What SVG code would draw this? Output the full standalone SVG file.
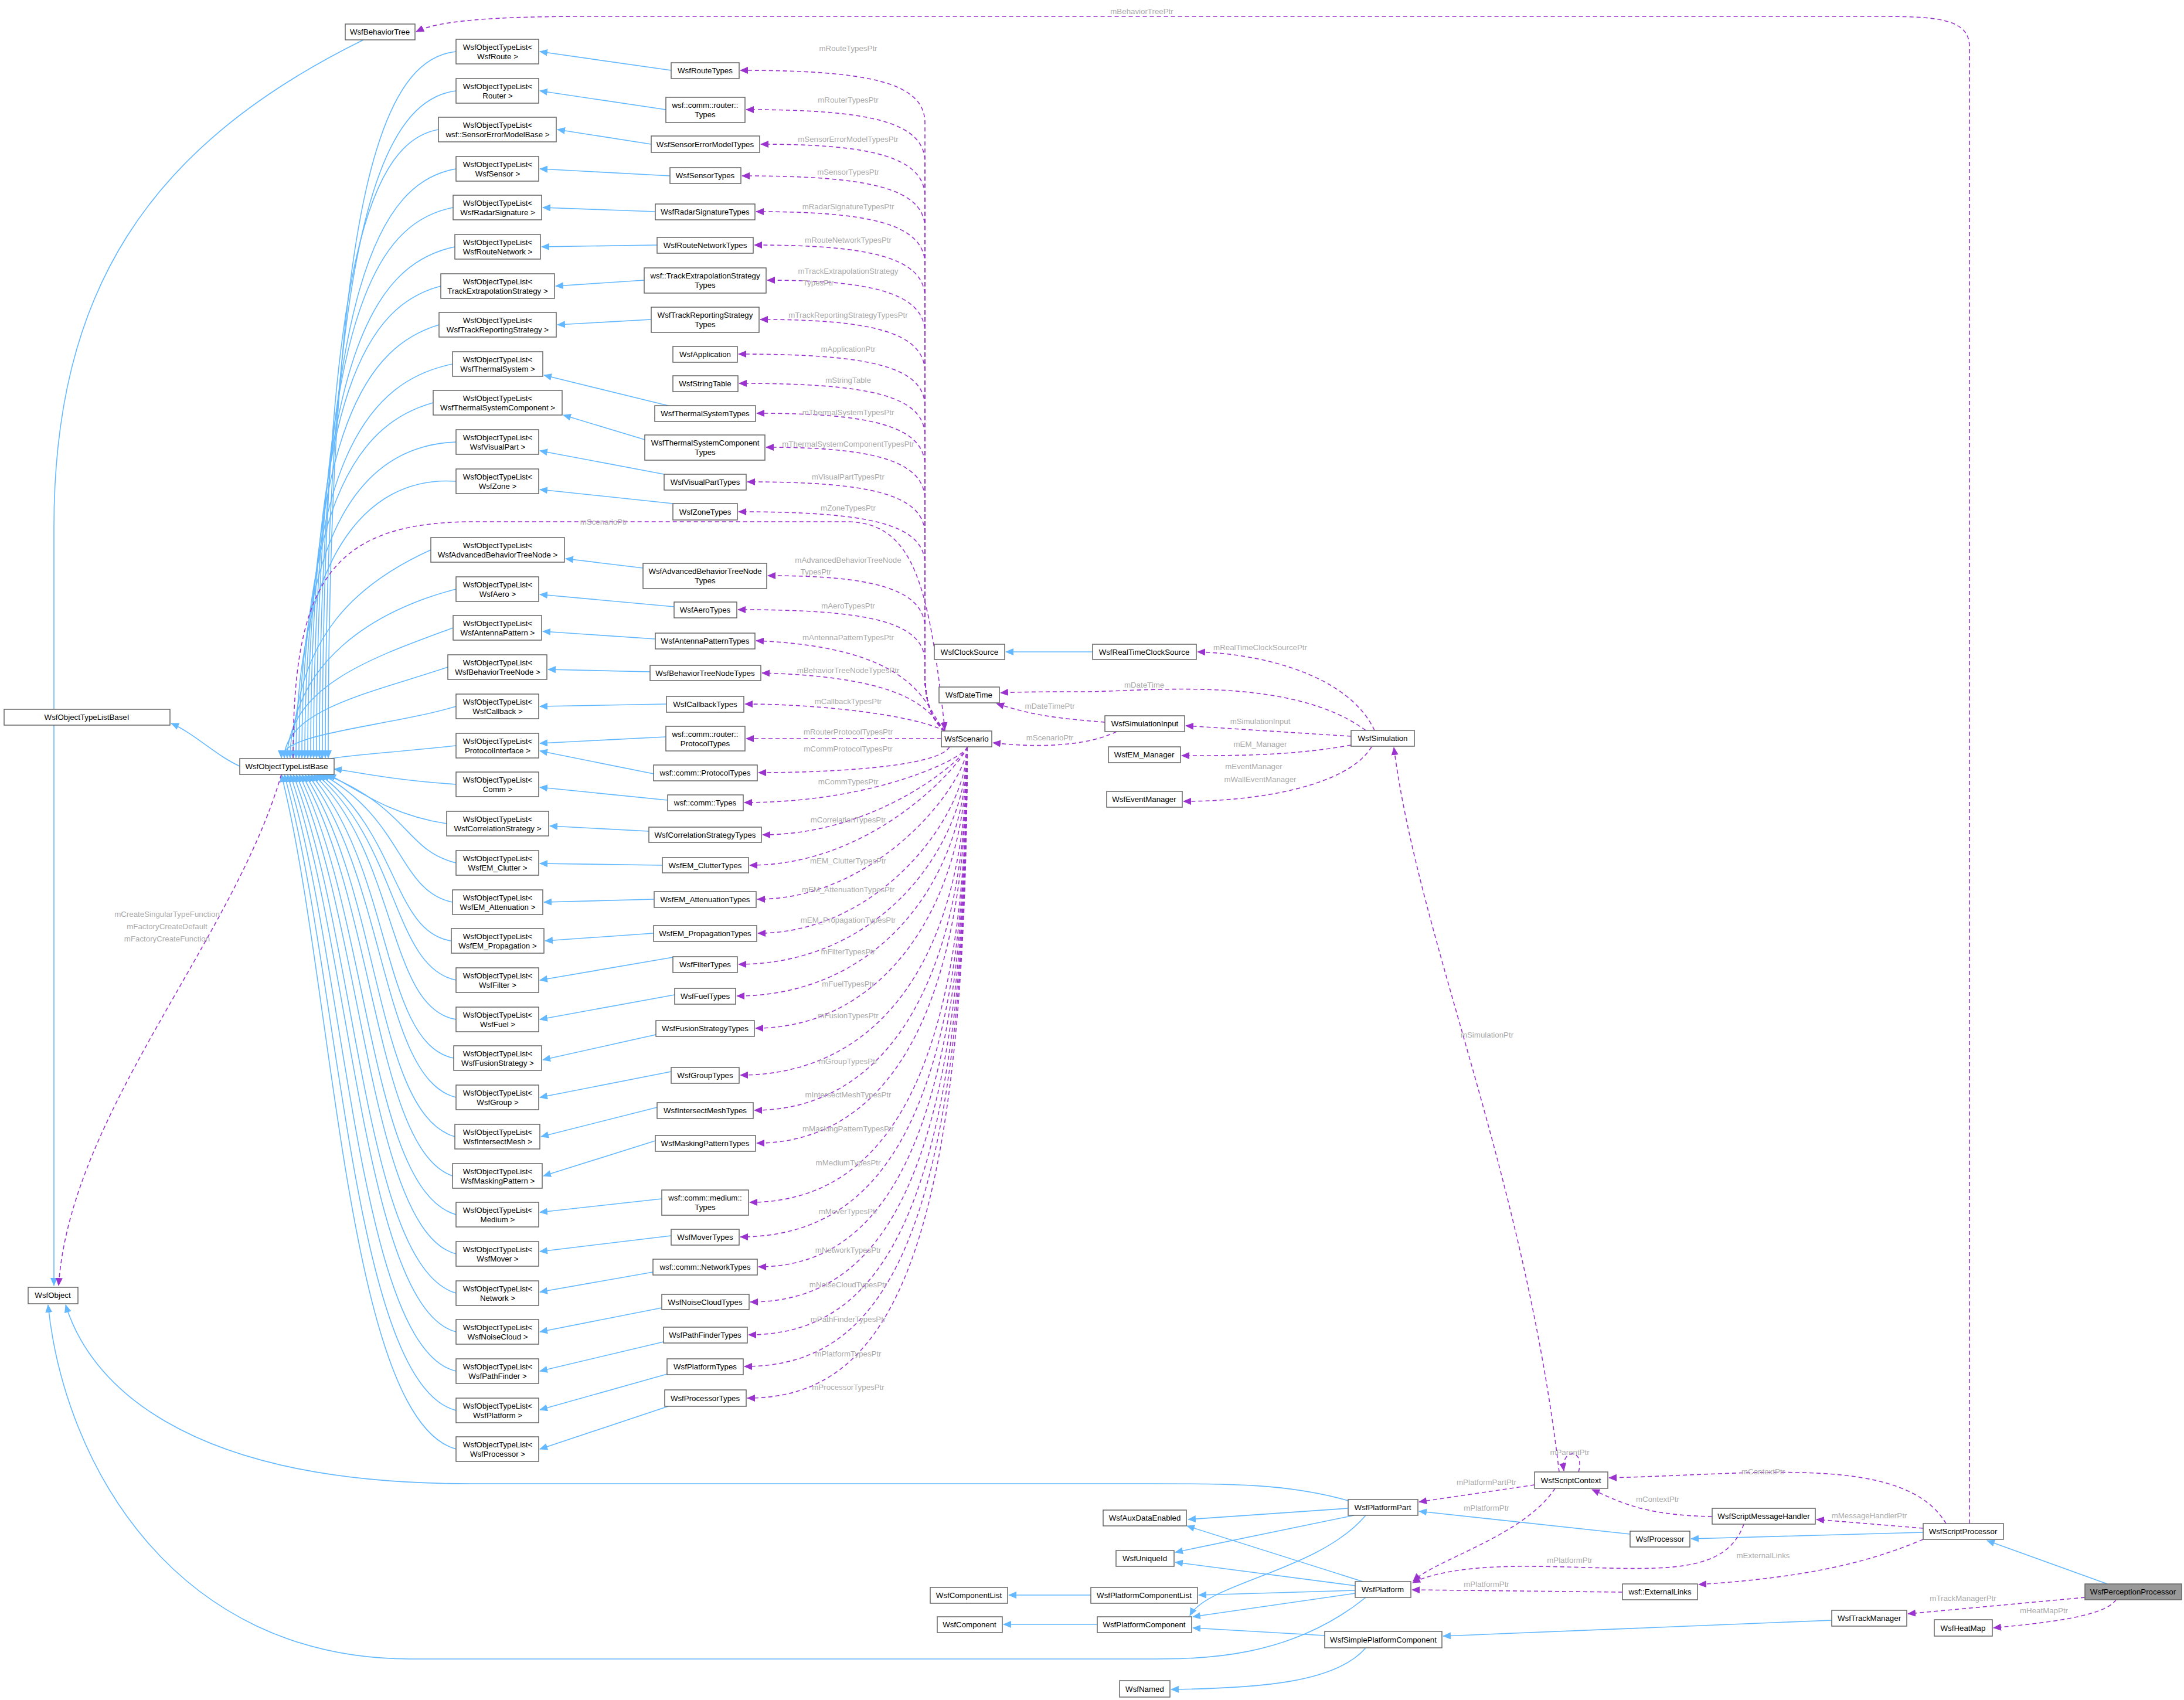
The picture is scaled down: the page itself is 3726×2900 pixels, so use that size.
<svg xmlns="http://www.w3.org/2000/svg" width="3726" height="2900" viewBox="0 0 3726 2900">
<defs>
<marker id="ab" markerWidth="14" markerHeight="12" refX="13" refY="6" orient="auto" markerUnits="userSpaceOnUse"><path d="M0,0 L14,6 L0,12 z" fill="#63b8ff"/></marker>
<marker id="ap" markerWidth="14" markerHeight="12" refX="13" refY="6" orient="auto" markerUnits="userSpaceOnUse"><path d="M0,0 L14,6 L0,12 z" fill="#9a32cd"/></marker>
</defs>
<style>
rect{fill:#fff;stroke:#666;stroke-width:1.5}
text{font-family:"Liberation Sans",Arial,sans-serif;font-size:13.3px;fill:#000;text-anchor:middle}
.l{fill:#aaaaaa}
.b{fill:none;stroke:#63b8ff;stroke-width:1.6;marker-end:url(#ab)}
.p{fill:none;stroke:#9a32cd;stroke-width:1.6;stroke-dasharray:7,5;marker-end:url(#ap)}
</style>
<rect x="0" y="0" width="3726" height="2900" style="fill:#fff;stroke:none"/>
<g id="edges">
<path class="b" d="M1145,120 L921,88"/>
<path class="b" d="M1136,187 L921,155"/>
<path class="b" d="M1111,246 L951,221"/>
<path class="b" d="M1143,300 L921,288"/>
<path class="b" d="M1118,361 L926,354"/>
<path class="b" d="M1121,418 L924,421"/>
<path class="b" d="M1099,478 L948,488"/>
<path class="b" d="M1111,545 L951,554"/>
<path class="b" d="M1140,692 L928,640"/>
<path class="b" d="M1100,750 L961,708"/>
<path class="b" d="M1133,809 L921,769"/>
<path class="b" d="M1148,859 L921,835"/>
<path class="b" d="M1097,969 L965,953"/>
<path class="b" d="M1150,1035 L921,1014"/>
<path class="b" d="M1118,1090 L926,1077"/>
<path class="b" d="M1109,1146 L935,1142"/>
<path class="b" d="M1137,1201 L921,1205"/>
<path class="b" d="M1136,1257 L921,1268"/>
<path class="b" d="M1115,1320 L921,1281"/>
<path class="b" d="M1139,1365 L921,1343"/>
<path class="b" d="M1107,1418 L938,1409"/>
<path class="b" d="M1130,1476 L921,1473"/>
<path class="b" d="M1116,1534 L928,1539"/>
<path class="b" d="M1115,1592 L930,1605"/>
<path class="b" d="M1148,1633 L921,1672"/>
<path class="b" d="M1151,1697 L921,1739"/>
<path class="b" d="M1119,1765 L926,1808"/>
<path class="b" d="M1145,1828 L921,1872"/>
<path class="b" d="M1121,1889 L923,1939"/>
<path class="b" d="M1118,1946 L927,2006"/>
<path class="b" d="M1129,2045 L921,2068"/>
<path class="b" d="M1145,2108 L921,2135"/>
<path class="b" d="M1114,2170 L921,2204"/>
<path class="b" d="M1129,2231 L921,2272"/>
<path class="b" d="M1132,2289 L921,2339"/>
<path class="b" d="M1138,2344 L921,2405"/>
<path class="b" d="M1140,2399 L921,2472"/>
<path class="b" d="M778,88 C660,100 560,300 560,1293"/>
<path class="b" d="M778,155 C660,170 555,360 555,1293"/>
<path class="b" d="M748,221 C640,240 550,420 550,1293"/>
<path class="b" d="M778,288 C650,310 545,480 545,1293"/>
<path class="b" d="M773,354 C640,380 540,540 540,1293"/>
<path class="b" d="M776,421 C640,450 535,600 535,1293"/>
<path class="b" d="M752,488 C630,520 530,660 530,1293"/>
<path class="b" d="M749,554 C630,590 525,720 525,1293"/>
<path class="b" d="M772,621 C630,650 520,780 520,1293"/>
<path class="b" d="M739,687 C620,720 515,840 515,1293"/>
<path class="b" d="M778,754 C620,760 510,900 510,1293"/>
<path class="b" d="M778,821 C620,810 505,960 505,1293"/>
<path class="b" d="M735,938 C620,990 500,1080 500,1293"/>
<path class="b" d="M778,1005 C640,1040 495,1130 495,1293"/>
<path class="b" d="M773,1071 C640,1120 490,1170 490,1293"/>
<path class="b" d="M764,1138 C640,1180 485,1210 485,1293"/>
<path class="b" d="M778,1205 C660,1240 480,1250 480,1293"/>
<path class="b" d="M778,1272 C660,1285 560,1290 540,1300"/>
<path class="b" d="M778,1338 C660,1330 600,1315 570,1312"/>
<path class="b" d="M762,1405 C660,1390 600,1340 560,1321"/>
<path class="b" d="M778,1472 C690,1450 700,1380 555,1321"/>
<path class="b" d="M772,1539 C680,1520 690,1400 550,1321"/>
<path class="b" d="M770,1605 C670,1590 680,1420 545,1321"/>
<path class="b" d="M778,1672 C670,1650 680,1440 540,1321"/>
<path class="b" d="M778,1739 C660,1720 680,1460 535,1321"/>
<path class="b" d="M774,1805 C650,1780 670,1480 530,1321"/>
<path class="b" d="M778,1872 C650,1840 660,1500 525,1321"/>
<path class="b" d="M776,1939 C640,1900 650,1520 520,1321"/>
<path class="b" d="M772,2006 C640,1960 640,1540 515,1321"/>
<path class="b" d="M778,2072 C630,2030 630,1560 510,1321"/>
<path class="b" d="M778,2139 C630,2100 620,1580 505,1321"/>
<path class="b" d="M778,2206 C620,2160 610,1600 500,1321"/>
<path class="b" d="M778,2272 C620,2230 600,1620 495,1321"/>
<path class="b" d="M778,2339 C610,2300 590,1640 490,1321"/>
<path class="b" d="M778,2406 C600,2360 580,1660 485,1321"/>
<path class="b" d="M778,2472 C590,2420 570,1680 480,1321"/>
<path class="p" d="M1612,1247 Q1578,1220 1578,1150 L1578,210 C1578,140 1480,120 1263,120"/>
<path class="p" d="M1612,1247 Q1578,1220 1578,1150 L1578,277 C1578,207 1480,187 1273,187"/>
<path class="p" d="M1612,1247 Q1578,1220 1578,1150 L1578,336 C1578,266 1480,246 1298,246"/>
<path class="p" d="M1612,1247 Q1578,1220 1578,1150 L1578,390 C1578,320 1480,300 1266,300"/>
<path class="p" d="M1612,1247 Q1578,1220 1578,1150 L1578,451 C1578,381 1480,361 1290,361"/>
<path class="p" d="M1612,1247 Q1578,1220 1578,1150 L1578,508 C1578,438 1480,418 1287,418"/>
<path class="p" d="M1612,1247 Q1578,1220 1578,1150 L1578,568 C1578,498 1480,478 1309,478"/>
<path class="p" d="M1612,1247 Q1578,1220 1578,1150 L1578,635 C1578,565 1480,545 1297,545"/>
<path class="p" d="M1612,1247 Q1578,1220 1578,1150 L1578,694 C1578,624 1480,604 1260,604"/>
<path class="p" d="M1612,1247 Q1578,1220 1578,1150 L1578,744 C1578,674 1480,654 1261,654"/>
<path class="p" d="M1612,1247 Q1578,1220 1578,1150 L1578,795 C1578,725 1480,705 1291,705"/>
<path class="p" d="M1612,1247 Q1578,1220 1578,1150 L1578,853 C1578,783 1480,763 1307,763"/>
<path class="p" d="M1612,1247 Q1578,1220 1578,1150 L1578,912 C1578,842 1480,822 1275,822"/>
<path class="p" d="M1612,1247 Q1578,1220 1578,1150 L1578,963 C1578,893 1480,873 1260,873"/>
<path class="p" d="M1612,1247 Q1578,1220 1578,1150 L1578,1072 C1578,1002 1480,982 1310,982"/>
<path class="p" d="M1612,1247 Q1578,1220 1578,1150 L1578,1130 C1578,1060 1480,1040 1259,1040"/>
<path class="p" d="M1612,1247 C1578,1210 1575,1105 1290,1093"/>
<path class="p" d="M1612,1247 C1585,1215 1560,1155 1300,1148"/>
<path class="p" d="M1612,1247 C1560,1220 1400,1201 1271,1201"/>
<path class="p" d="M1606,1260 L1273,1260"/>
<path class="p" d="M1620,1274 C1600,1310 1400,1318 1294,1318"/>
<path class="p" d="M1650,1274 C1650,1290 1500,1369 1270,1369"/>
<path class="p" d="M1650,1274 C1650,1290 1500,1424 1301,1424"/>
<path class="p" d="M1650,1274 C1650,1290 1500,1476 1279,1476"/>
<path class="p" d="M1650,1274 C1650,1334 1500,1534 1292,1534"/>
<path class="p" d="M1650,1274 C1650,1392 1500,1592 1293,1592"/>
<path class="p" d="M1650,1274 C1650,1445 1500,1645 1260,1645"/>
<path class="p" d="M1650,1274 C1650,1499 1500,1699 1257,1699"/>
<path class="p" d="M1650,1274 C1650,1554 1500,1754 1289,1754"/>
<path class="p" d="M1650,1274 C1650,1634 1500,1834 1263,1834"/>
<path class="p" d="M1650,1274 C1650,1694 1500,1894 1287,1894"/>
<path class="p" d="M1650,1274 C1650,1750 1500,1950 1291,1950"/>
<path class="p" d="M1650,1274 C1650,1851 1500,2051 1279,2051"/>
<path class="p" d="M1650,1274 C1650,1910 1500,2110 1263,2110"/>
<path class="p" d="M1650,1274 C1650,1961 1500,2161 1294,2161"/>
<path class="p" d="M1650,1274 C1650,2021 1500,2221 1280,2221"/>
<path class="p" d="M1650,1274 C1650,2077 1500,2277 1277,2277"/>
<path class="p" d="M1650,1274 C1650,2131 1500,2331 1270,2331"/>
<path class="p" d="M1650,1274 C1650,2185 1500,2385 1275,2385"/>
<path class="b" d="M409,1307 C370,1290 330,1250 292,1234"/>
<path class="b" d="M620,68 C250,250 92,500 92,900 L92,2193"/>
<path class="p" d="M480,1321 C400,1600 120,1900 100,2193"/>
<path class="p" d="M500,1293 C500,1000 560,893 800,890 L1450,890 C1560,895 1585,1000 1612,1245"/>
<path class="p" d="M3360,2599 L3360,80 C3360,30 3300,28 3200,28 L1000,28 C800,28 740,40 710,54"/>
<path class="b" d="M2300,2560 C2200,2531 2100,2531 1960,2531 L800,2531 C300,2531 150,2350 112,2226"/>
<path class="b" d="M2330,2725 C2200,2830 2050,2830 1960,2830 L700,2830 C300,2830 110,2500 82,2226"/>
<path class="b" d="M1864,1112 L1716,1112"/>
<path class="p" d="M2345,1246 C2300,1150 2150,1115 2043,1112"/>
<path class="p" d="M2330,1246 C2200,1150 1950,1180 1850,1180 C1750,1180 1720,1181 1707,1182"/>
<path class="p" d="M1885,1232 C1800,1225 1760,1220 1700,1200"/>
<path class="p" d="M1905,1248 C1850,1275 1760,1275 1694,1267"/>
<path class="p" d="M2305,1256 L2023,1238"/>
<path class="p" d="M2305,1271 C2200,1290 2100,1289 2016,1289"/>
<path class="p" d="M2340,1274 C2300,1340 2150,1367 2019,1367"/>
<path class="p" d="M2660,2511 C2600,2000 2420,1600 2378,1275"/>
<path class="b" d="M2300,2573 L2027,2592"/>
<path class="b" d="M2310,2585 L2005,2648"/>
<path class="b" d="M2330,2585 C2250,2680 2060,2700 2030,2756"/>
<path class="b" d="M2325,2698 L2025,2603"/>
<path class="b" d="M2312,2705 L2005,2665"/>
<path class="b" d="M2312,2713 L2045,2721"/>
<path class="b" d="M2312,2718 L2035,2758"/>
<path class="b" d="M2781,2617 L2421,2578"/>
<path class="b" d="M3281,2614 L2885,2625"/>
<path class="b" d="M3595,2702 L3390,2628"/>
<path class="b" d="M3125,2764 L2462,2791"/>
<path class="b" d="M2260,2790 L2035,2777"/>
<path class="b" d="M2330,2811 C2280,2870 2150,2880 1998,2882"/>
<path class="b" d="M1861,2721 L1721,2721"/>
<path class="b" d="M1872,2771 L1712,2771"/>
<path class="p" d="M2618,2533 L2421,2562"/>
<path class="p" d="M2653,2539 C2600,2620 2450,2660 2411,2697"/>
<path class="p" d="M3320,2599 C3250,2480 3000,2515 2745,2521"/>
<path class="p" d="M2921,2587 C2800,2585 2760,2560 2716,2541"/>
<path class="p" d="M3281,2607 L3099,2592"/>
<path class="p" d="M2975,2600 C2940,2700 2800,2672 2600,2672 C2480,2672 2430,2690 2410,2700"/>
<path class="p" d="M3281,2626 C3200,2660 3100,2690 2898,2703"/>
<path class="p" d="M2768,2716 L2409,2712"/>
<path class="p" d="M3557,2725 L3255,2753"/>
<path class="p" d="M3610,2729 C3590,2760 3470,2770 3401,2777"/>
<path class="p" d="M2693,2511 C2705,2470 2662,2470 2668,2509"/>
</g>
<g id="labels">
<text class="l" x="1447" y="87">mRouteTypesPtr</text>
<text class="l" x="1447" y="175">mRouterTypesPtr</text>
<text class="l" x="1447" y="242">mSensorErrorModelTypesPtr</text>
<text class="l" x="1447" y="298">mSensorTypesPtr</text>
<text class="l" x="1447" y="357">mRadarSignatureTypesPtr</text>
<text class="l" x="1447" y="414">mRouteNetworkTypesPtr</text>
<text class="l" x="1447" y="467">mTrackExtrapolationStrategy</text>
<text class="l" x="1396" y="487">TypesPtr</text>
<text class="l" x="1447" y="542">mTrackReportingStrategyTypesPtr</text>
<text class="l" x="1447" y="600">mApplicationPtr</text>
<text class="l" x="1447" y="653">mStringTable</text>
<text class="l" x="1447" y="708">mThermalSystemTypesPtr</text>
<text class="l" x="1447" y="762">mThermalSystemComponentTypesPtr</text>
<text class="l" x="1447" y="818">mVisualPartTypesPtr</text>
<text class="l" x="1447" y="871">mZoneTypesPtr</text>
<text class="l" x="1030" y="895">mScenarioPtr</text>
<text class="l" x="1447" y="960">mAdvancedBehaviorTreeNode</text>
<text class="l" x="1392" y="980">TypesPtr</text>
<text class="l" x="1447" y="1038">mAeroTypesPtr</text>
<text class="l" x="1447" y="1092">mAntennaPatternTypesPtr</text>
<text class="l" x="1447" y="1148">mBehaviorTreeNodeTypesPtr</text>
<text class="l" x="1447" y="1201">mCallbackTypesPtr</text>
<text class="l" x="1447" y="1253">mRouterProtocolTypesPtr</text>
<text class="l" x="1447" y="1282">mCommProtocolTypesPtr</text>
<text class="l" x="1447" y="1338">mCommTypesPtr</text>
<text class="l" x="1447" y="1403">mCorrelationTypesPtr</text>
<text class="l" x="1447" y="1473">mEM_ClutterTypesPtr</text>
<text class="l" x="1447" y="1522">mEM_AttenuationTypesPtr</text>
<text class="l" x="1447" y="1574">mEM_PropagationTypesPtr</text>
<text class="l" x="1447" y="1628">mFilterTypesPtr</text>
<text class="l" x="1447" y="1683">mFuelTypesPtr</text>
<text class="l" x="1447" y="1737">mFusionTypesPtr</text>
<text class="l" x="1447" y="1815">mGroupTypesPtr</text>
<text class="l" x="1447" y="1872">mIntersectMeshTypesPtr</text>
<text class="l" x="1447" y="1930">mMaskingPatternTypesPtr</text>
<text class="l" x="1447" y="1988">mMediumTypesPtr</text>
<text class="l" x="1447" y="2071">mMoverTypesPtr</text>
<text class="l" x="1447" y="2137">mNetworkTypesPtr</text>
<text class="l" x="1447" y="2196">mNoiseCloudTypesPtr</text>
<text class="l" x="1447" y="2255">mPathFinderTypesPtr</text>
<text class="l" x="1447" y="2314">mPlatformTypesPtr</text>
<text class="l" x="1447" y="2371">mProcessorTypesPtr</text>
<text class="l" x="1948" y="24">mBehaviorTreePtr</text>
<text class="l" x="285" y="1564">mCreateSingularTypeFunction</text>
<text class="l" x="285" y="1585">mFactoryCreateDefault</text>
<text class="l" x="285" y="1606">mFactoryCreateFunction</text>
<text class="l" x="2150" y="1109">mRealTimeClockSourcePtr</text>
<text class="l" x="1952" y="1173">mDateTime</text>
<text class="l" x="1791" y="1209">mDateTimePtr</text>
<text class="l" x="2150" y="1235">mSimulationInput</text>
<text class="l" x="1791" y="1263">mScenarioPtr</text>
<text class="l" x="2150" y="1274">mEM_Manager</text>
<text class="l" x="2139" y="1312">mEventManager</text>
<text class="l" x="2150" y="1334">mWallEventManager</text>
<text class="l" x="2537" y="1770">mSimulationPtr</text>
<text class="l" x="2678" y="2482">mParentPtr</text>
<text class="l" x="3008" y="2515">mContextPtr</text>
<text class="l" x="2536" y="2533">mPlatformPartPtr</text>
<text class="l" x="2828" y="2562">mContextPtr</text>
<text class="l" x="2536" y="2577">mPlatformPtr</text>
<text class="l" x="3189" y="2590">mMessageHandlerPtr</text>
<text class="l" x="2678" y="2666">mPlatformPtr</text>
<text class="l" x="3008" y="2658">mExternalLinks</text>
<text class="l" x="2536" y="2707">mPlatformPtr</text>
<text class="l" x="3349" y="2731">mTrackManagerPtr</text>
<text class="l" x="3487" y="2752">mHeatMapPtr</text>
</g>
<g id="WsfBehaviorTree"><rect x="589" y="41" width="119" height="27"/><text x="648" y="59">WsfBehaviorTree</text></g>
<g id="WsfObjectTypeListBaseI"><rect x="7" y="1210" width="283" height="27"/><text x="148" y="1228">WsfObjectTypeListBaseI</text></g>
<g id="WsfObjectTypeListBase"><rect x="409" y="1294" width="161" height="27"/><text x="489" y="1312">WsfObjectTypeListBase</text></g>
<g id="WsfObject"><rect x="48" y="2196" width="85" height="28"/><text x="90" y="2214">WsfObject</text></g>
<g id="tl0"><rect x="778" y="67" width="141" height="42"/><text x="849" y="85">WsfObjectTypeList&lt;</text><text x="849" y="101">WsfRoute &gt;</text></g>
<g id="tl1"><rect x="778" y="134" width="141" height="42"/><text x="849" y="152">WsfObjectTypeList&lt;</text><text x="849" y="168">Router &gt;</text></g>
<g id="tl2"><rect x="748" y="200" width="201" height="42"/><text x="849" y="218">WsfObjectTypeList&lt;</text><text x="849" y="234">wsf::SensorErrorModelBase &gt;</text></g>
<g id="tl3"><rect x="778" y="267" width="141" height="42"/><text x="849" y="285">WsfObjectTypeList&lt;</text><text x="849" y="301">WsfSensor &gt;</text></g>
<g id="tl4"><rect x="773" y="333" width="151" height="42"/><text x="849" y="351">WsfObjectTypeList&lt;</text><text x="849" y="367">WsfRadarSignature &gt;</text></g>
<g id="tl5"><rect x="776" y="400" width="146" height="42"/><text x="849" y="418">WsfObjectTypeList&lt;</text><text x="849" y="434">WsfRouteNetwork &gt;</text></g>
<g id="tl6"><rect x="752" y="467" width="194" height="42"/><text x="849" y="485">WsfObjectTypeList&lt;</text><text x="849" y="501">TrackExtrapolationStrategy &gt;</text></g>
<g id="tl7"><rect x="749" y="533" width="200" height="42"/><text x="849" y="551">WsfObjectTypeList&lt;</text><text x="849" y="567">WsfTrackReportingStrategy &gt;</text></g>
<g id="tl8"><rect x="772" y="600" width="154" height="42"/><text x="849" y="618">WsfObjectTypeList&lt;</text><text x="849" y="634">WsfThermalSystem &gt;</text></g>
<g id="tl9"><rect x="739" y="666" width="220" height="42"/><text x="849" y="684">WsfObjectTypeList&lt;</text><text x="849" y="700">WsfThermalSystemComponent &gt;</text></g>
<g id="tl10"><rect x="778" y="733" width="141" height="42"/><text x="849" y="751">WsfObjectTypeList&lt;</text><text x="849" y="767">WsfVisualPart &gt;</text></g>
<g id="tl11"><rect x="778" y="800" width="141" height="42"/><text x="849" y="818">WsfObjectTypeList&lt;</text><text x="849" y="834">WsfZone &gt;</text></g>
<g id="tl12"><rect x="735" y="917" width="228" height="42"/><text x="849" y="935">WsfObjectTypeList&lt;</text><text x="849" y="951">WsfAdvancedBehaviorTreeNode &gt;</text></g>
<g id="tl13"><rect x="778" y="984" width="141" height="42"/><text x="849" y="1002">WsfObjectTypeList&lt;</text><text x="849" y="1018">WsfAero &gt;</text></g>
<g id="tl14"><rect x="773" y="1050" width="151" height="42"/><text x="849" y="1068">WsfObjectTypeList&lt;</text><text x="849" y="1084">WsfAntennaPattern &gt;</text></g>
<g id="tl15"><rect x="764" y="1117" width="169" height="42"/><text x="849" y="1135">WsfObjectTypeList&lt;</text><text x="849" y="1151">WsfBehaviorTreeNode &gt;</text></g>
<g id="tl16"><rect x="778" y="1184" width="141" height="42"/><text x="849" y="1202">WsfObjectTypeList&lt;</text><text x="849" y="1218">WsfCallback &gt;</text></g>
<g id="tl17"><rect x="778" y="1251" width="141" height="42"/><text x="849" y="1269">WsfObjectTypeList&lt;</text><text x="849" y="1285">ProtocolInterface &gt;</text></g>
<g id="tl18"><rect x="778" y="1317" width="141" height="42"/><text x="849" y="1335">WsfObjectTypeList&lt;</text><text x="849" y="1351">Comm &gt;</text></g>
<g id="tl19"><rect x="762" y="1384" width="174" height="42"/><text x="849" y="1402">WsfObjectTypeList&lt;</text><text x="849" y="1418">WsfCorrelationStrategy &gt;</text></g>
<g id="tl20"><rect x="778" y="1451" width="141" height="42"/><text x="849" y="1469">WsfObjectTypeList&lt;</text><text x="849" y="1485">WsfEM_Clutter &gt;</text></g>
<g id="tl21"><rect x="772" y="1518" width="154" height="42"/><text x="849" y="1536">WsfObjectTypeList&lt;</text><text x="849" y="1552">WsfEM_Attenuation &gt;</text></g>
<g id="tl22"><rect x="770" y="1584" width="158" height="42"/><text x="849" y="1602">WsfObjectTypeList&lt;</text><text x="849" y="1618">WsfEM_Propagation &gt;</text></g>
<g id="tl23"><rect x="778" y="1651" width="141" height="42"/><text x="849" y="1669">WsfObjectTypeList&lt;</text><text x="849" y="1685">WsfFilter &gt;</text></g>
<g id="tl24"><rect x="778" y="1718" width="141" height="42"/><text x="849" y="1736">WsfObjectTypeList&lt;</text><text x="849" y="1752">WsfFuel &gt;</text></g>
<g id="tl25"><rect x="774" y="1784" width="150" height="42"/><text x="849" y="1802">WsfObjectTypeList&lt;</text><text x="849" y="1818">WsfFusionStrategy &gt;</text></g>
<g id="tl26"><rect x="778" y="1851" width="141" height="42"/><text x="849" y="1869">WsfObjectTypeList&lt;</text><text x="849" y="1885">WsfGroup &gt;</text></g>
<g id="tl27"><rect x="776" y="1918" width="145" height="42"/><text x="849" y="1936">WsfObjectTypeList&lt;</text><text x="849" y="1952">WsfIntersectMesh &gt;</text></g>
<g id="tl28"><rect x="772" y="1985" width="153" height="42"/><text x="849" y="2003">WsfObjectTypeList&lt;</text><text x="849" y="2019">WsfMaskingPattern &gt;</text></g>
<g id="tl29"><rect x="778" y="2051" width="141" height="42"/><text x="849" y="2069">WsfObjectTypeList&lt;</text><text x="849" y="2085">Medium &gt;</text></g>
<g id="tl30"><rect x="778" y="2118" width="141" height="42"/><text x="849" y="2136">WsfObjectTypeList&lt;</text><text x="849" y="2152">WsfMover &gt;</text></g>
<g id="tl31"><rect x="778" y="2185" width="141" height="42"/><text x="849" y="2203">WsfObjectTypeList&lt;</text><text x="849" y="2219">Network &gt;</text></g>
<g id="tl32"><rect x="778" y="2251" width="141" height="42"/><text x="849" y="2269">WsfObjectTypeList&lt;</text><text x="849" y="2285">WsfNoiseCloud &gt;</text></g>
<g id="tl33"><rect x="778" y="2318" width="141" height="42"/><text x="849" y="2336">WsfObjectTypeList&lt;</text><text x="849" y="2352">WsfPathFinder &gt;</text></g>
<g id="tl34"><rect x="778" y="2385" width="141" height="42"/><text x="849" y="2403">WsfObjectTypeList&lt;</text><text x="849" y="2419">WsfPlatform &gt;</text></g>
<g id="tl35"><rect x="778" y="2451" width="141" height="42"/><text x="849" y="2469">WsfObjectTypeList&lt;</text><text x="849" y="2485">WsfProcessor &gt;</text></g>
<g id="WsfRouteTypes"><rect x="1145" y="107" width="116" height="27"/><text x="1203" y="125">WsfRouteTypes</text></g>
<g id="routerTypes"><rect x="1136" y="166" width="135" height="43"/><text x="1203" y="184">wsf::comm::router::</text><text x="1203" y="200">Types</text></g>
<g id="WsfSensorErrorModelTypes"><rect x="1111" y="232" width="185" height="28"/><text x="1203" y="251">WsfSensorErrorModelTypes</text></g>
<g id="WsfSensorTypes"><rect x="1143" y="286" width="121" height="27"/><text x="1203" y="304">WsfSensorTypes</text></g>
<g id="WsfRadarSignatureTypes"><rect x="1118" y="348" width="170" height="27"/><text x="1203" y="366">WsfRadarSignatureTypes</text></g>
<g id="WsfRouteNetworkTypes"><rect x="1121" y="405" width="164" height="27"/><text x="1203" y="423">WsfRouteNetworkTypes</text></g>
<g id="TrackExtrapolationStrategyTypes"><rect x="1099" y="457" width="208" height="43"/><text x="1203" y="475">wsf::TrackExtrapolationStrategy</text><text x="1203" y="491">Types</text></g>
<g id="WsfTrackReportingStrategyTypes"><rect x="1111" y="524" width="184" height="43"/><text x="1203" y="542">WsfTrackReportingStrategy</text><text x="1203" y="558">Types</text></g>
<g id="WsfApplication"><rect x="1148" y="591" width="110" height="27"/><text x="1203" y="609">WsfApplication</text></g>
<g id="WsfStringTable"><rect x="1148" y="641" width="111" height="27"/><text x="1203" y="659">WsfStringTable</text></g>
<g id="WsfThermalSystemTypes"><rect x="1117" y="692" width="172" height="27"/><text x="1203" y="710">WsfThermalSystemTypes</text></g>
<g id="WsfThermalSystemComponentTypes"><rect x="1100" y="742" width="205" height="43"/><text x="1203" y="760">WsfThermalSystemComponent</text><text x="1203" y="776">Types</text></g>
<g id="WsfVisualPartTypes"><rect x="1133" y="809" width="140" height="27"/><text x="1203" y="827">WsfVisualPartTypes</text></g>
<g id="WsfZoneTypes"><rect x="1148" y="859" width="110" height="28"/><text x="1203" y="878">WsfZoneTypes</text></g>
<g id="WsfAdvancedBehaviorTreeNodeTypes"><rect x="1097" y="961" width="211" height="43"/><text x="1203" y="979">WsfAdvancedBehaviorTreeNode</text><text x="1203" y="995">Types</text></g>
<g id="WsfAeroTypes"><rect x="1150" y="1027" width="107" height="27"/><text x="1203" y="1045">WsfAeroTypes</text></g>
<g id="WsfAntennaPatternTypes"><rect x="1118" y="1080" width="170" height="27"/><text x="1203" y="1098">WsfAntennaPatternTypes</text></g>
<g id="WsfBehaviorTreeNodeTypes"><rect x="1109" y="1135" width="189" height="26"/><text x="1203" y="1153">WsfBehaviorTreeNodeTypes</text></g>
<g id="WsfCallbackTypes"><rect x="1137" y="1188" width="132" height="27"/><text x="1203" y="1206">WsfCallbackTypes</text></g>
<g id="routerProtocolTypes"><rect x="1136" y="1239" width="135" height="42"/><text x="1203" y="1257">wsf::comm::router::</text><text x="1203" y="1273">ProtocolTypes</text></g>
<g id="commProtocolTypes"><rect x="1115" y="1305" width="177" height="27"/><text x="1203" y="1323">wsf::comm::ProtocolTypes</text></g>
<g id="commTypes"><rect x="1139" y="1356" width="129" height="27"/><text x="1203" y="1374">wsf::comm::Types</text></g>
<g id="WsfCorrelationStrategyTypes"><rect x="1107" y="1411" width="192" height="26"/><text x="1203" y="1429">WsfCorrelationStrategyTypes</text></g>
<g id="WsfEM_ClutterTypes"><rect x="1130" y="1463" width="147" height="26"/><text x="1203" y="1481">WsfEM_ClutterTypes</text></g>
<g id="WsfEM_AttenuationTypes"><rect x="1116" y="1521" width="174" height="27"/><text x="1203" y="1539">WsfEM_AttenuationTypes</text></g>
<g id="WsfEM_PropagationTypes"><rect x="1115" y="1579" width="176" height="27"/><text x="1203" y="1597">WsfEM_PropagationTypes</text></g>
<g id="WsfFilterTypes"><rect x="1148" y="1632" width="110" height="27"/><text x="1203" y="1650">WsfFilterTypes</text></g>
<g id="WsfFuelTypes"><rect x="1151" y="1686" width="104" height="27"/><text x="1203" y="1704">WsfFuelTypes</text></g>
<g id="WsfFusionStrategyTypes"><rect x="1119" y="1741" width="168" height="27"/><text x="1203" y="1759">WsfFusionStrategyTypes</text></g>
<g id="WsfGroupTypes"><rect x="1145" y="1821" width="116" height="27"/><text x="1203" y="1839">WsfGroupTypes</text></g>
<g id="WsfIntersectMeshTypes"><rect x="1121" y="1881" width="164" height="27"/><text x="1203" y="1899">WsfIntersectMeshTypes</text></g>
<g id="WsfMaskingPatternTypes"><rect x="1118" y="1937" width="171" height="27"/><text x="1203" y="1955">WsfMaskingPatternTypes</text></g>
<g id="mediumTypes"><rect x="1129" y="2030" width="148" height="43"/><text x="1203" y="2048">wsf::comm::medium::</text><text x="1203" y="2064">Types</text></g>
<g id="WsfMoverTypes"><rect x="1145" y="2097" width="116" height="27"/><text x="1203" y="2115">WsfMoverTypes</text></g>
<g id="NetworkTypes"><rect x="1114" y="2148" width="178" height="27"/><text x="1203" y="2166">wsf::comm::NetworkTypes</text></g>
<g id="WsfNoiseCloudTypes"><rect x="1129" y="2208" width="149" height="26"/><text x="1203" y="2226">WsfNoiseCloudTypes</text></g>
<g id="WsfPathFinderTypes"><rect x="1132" y="2264" width="143" height="27"/><text x="1203" y="2282">WsfPathFinderTypes</text></g>
<g id="WsfPlatformTypes"><rect x="1138" y="2318" width="130" height="27"/><text x="1203" y="2336">WsfPlatformTypes</text></g>
<g id="WsfProcessorTypes"><rect x="1134" y="2371" width="139" height="28"/><text x="1203" y="2390">WsfProcessorTypes</text></g>
<g id="WsfScenario"><rect x="1606" y="1247" width="86" height="27"/><text x="1649" y="1265">WsfScenario</text></g>
<g id="WsfClockSource"><rect x="1594" y="1099" width="120" height="26"/><text x="1654" y="1117">WsfClockSource</text></g>
<g id="WsfRealTimeClockSource"><rect x="1864" y="1099" width="177" height="26"/><text x="1952" y="1117">WsfRealTimeClockSource</text></g>
<g id="WsfDateTime"><rect x="1602" y="1172" width="103" height="27"/><text x="1653" y="1190">WsfDateTime</text></g>
<g id="WsfSimulationInput"><rect x="1885" y="1221" width="136" height="27"/><text x="1953" y="1239">WsfSimulationInput</text></g>
<g id="WsfSimulation"><rect x="2305" y="1246" width="108" height="27"/><text x="2359" y="1264">WsfSimulation</text></g>
<g id="WsfEM_Manager"><rect x="1891" y="1274" width="123" height="27"/><text x="1952" y="1292">WsfEM_Manager</text></g>
<g id="WsfEventManager"><rect x="1888" y="1350" width="129" height="27"/><text x="1952" y="1368">WsfEventManager</text></g>
<g id="WsfScriptContext"><rect x="2618" y="2511" width="125" height="28"/><text x="2680" y="2530">WsfScriptContext</text></g>
<g id="WsfPlatformPart"><rect x="2300" y="2558" width="119" height="27"/><text x="2359" y="2576">WsfPlatformPart</text></g>
<g id="WsfAuxDataEnabled"><rect x="1882" y="2576" width="142" height="27"/><text x="1953" y="2594">WsfAuxDataEnabled</text></g>
<g id="WsfUniqueId"><rect x="1904" y="2645" width="99" height="27"/><text x="1953" y="2663">WsfUniqueId</text></g>
<g id="WsfComponentList"><rect x="1587" y="2708" width="132" height="27"/><text x="1653" y="2726">WsfComponentList</text></g>
<g id="WsfPlatformComponentList"><rect x="1861" y="2708" width="182" height="27"/><text x="1952" y="2726">WsfPlatformComponentList</text></g>
<g id="WsfComponent"><rect x="1599" y="2758" width="111" height="27"/><text x="1654" y="2776">WsfComponent</text></g>
<g id="WsfPlatformComponent"><rect x="1872" y="2758" width="161" height="27"/><text x="1952" y="2776">WsfPlatformComponent</text></g>
<g id="WsfPlatform"><rect x="2312" y="2698" width="95" height="27"/><text x="2359" y="2716">WsfPlatform</text></g>
<g id="WsfSimplePlatformComponent"><rect x="2260" y="2783" width="200" height="28"/><text x="2360" y="2802">WsfSimplePlatformComponent</text></g>
<g id="WsfNamed"><rect x="1910" y="2867" width="86" height="28"/><text x="1953" y="2886">WsfNamed</text></g>
<g id="WsfProcessor"><rect x="2781" y="2612" width="102" height="27"/><text x="2832" y="2630">WsfProcessor</text></g>
<g id="WsfScriptMessageHandler"><rect x="2921" y="2573" width="176" height="27"/><text x="3009" y="2591">WsfScriptMessageHandler</text></g>
<g id="WsfScriptProcessor"><rect x="3281" y="2599" width="137" height="27"/><text x="3349" y="2617">WsfScriptProcessor</text></g>
<g id="ExternalLinks"><rect x="2768" y="2702" width="128" height="27"/><text x="2832" y="2720">wsf::ExternalLinks</text></g>
<g id="WsfPerceptionProcessor"><rect x="3557" y="2702" width="165" height="27" style="fill:#999"/><text x="3639" y="2720">WsfPerceptionProcessor</text></g>
<g id="WsfTrackManager"><rect x="3125" y="2747" width="128" height="27"/><text x="3189" y="2765">WsfTrackManager</text></g>
<g id="WsfHeatMap"><rect x="3300" y="2763" width="99" height="28"/><text x="3349" y="2782">WsfHeatMap</text></g>
</svg>
